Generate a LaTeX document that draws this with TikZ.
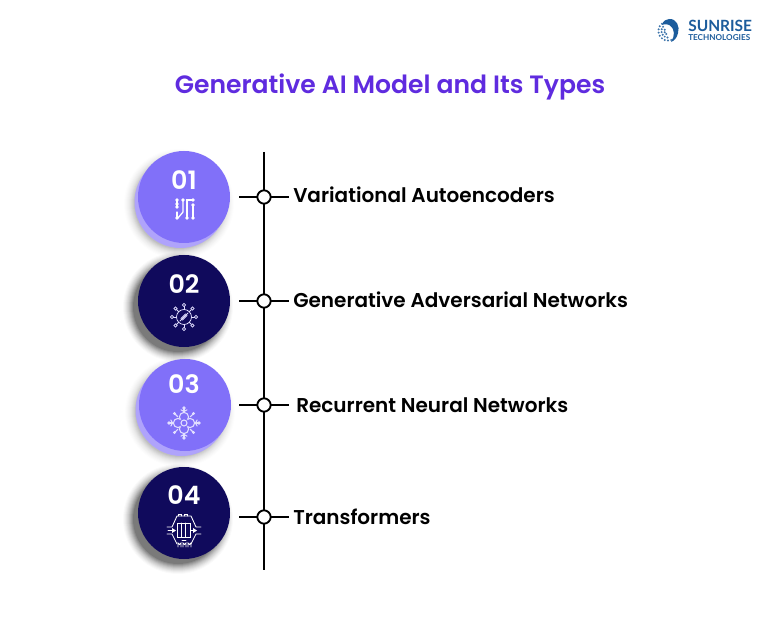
\documentclass[tikz,border=0pt]{standalone}
\usepackage{fontspec}
\setmainfont{Poppins}[BoldFont={Poppins SemiBold}]
\newfontfamily\logofont{Lato}
\definecolor{lilac}{HTML}{8170F9}
\definecolor{lilacback}{HTML}{AFA3FB}
\definecolor{navy}{HTML}{100A5C}
\definecolor{titlecol}{HTML}{5F2BDF}
\definecolor{logoblue}{HTML}{1C5C9C}
\definecolor{iconpale}{HTML}{E2DFFF}
\tikzset{
  x=0.75pt,y=-0.75pt,
  disc/.style={circle,minimum size=69pt,inner sep=0pt,fill=#1},
  num/.style={text=white,font=\bfseries\fontsize{19}{19}\selectfont,inner sep=0pt},
  rail/.style={line width=1.5pt,black},
  tick/.style={line width=1.5pt,black},
  knob/.style={circle,draw=black,fill=white,line width=1.4pt,minimum size=10pt,inner sep=0pt},
  lab/.style={anchor=west,font=\bfseries\fontsize{15}{16}\selectfont,inner sep=0pt,text=black},
  ico/.style={white,line width=0.95pt,line cap=round},
  icop/.style={iconpale,line width=0.55pt,line cap=round},
}
\newcommand{\softshadow}[3]{%
  \foreach \r/\o in {55/0.015,54/0.02,53/0.025,52/0.03,51/0.035,50/0.04,49/0.05,48/0.06,47/0.07,46/0.08,45/0.10}
    {\fill[black,opacity=#3*\o] (#1,#2) circle[radius=\r];}%
}
\begin{document}
\begin{tikzpicture}
\useasboundingbox (0,0) rectangle (780,630);
\fill[white] (0,0) rectangle (780,630);

% logo
\begin{scope}
  \fill[logoblue] (669,19) .. controls (677,18.5) and (680,27) .. (678,33)
     .. controls (677,38) and (674,41) .. (671,42)
     .. controls (675,36) and (675,29) .. (670,25.5)
     .. controls (668,24) and (664,24) .. (662,25) .. controls (663,21) and (666,19) .. (669,19) -- cycle;
  \foreach \a/\R in {130/9.5,150/9.5,170/9.5,190/9.5,210/9.5,230/9.5,250/9.5,270/9.5,290/9.5,140/6.5,165/6.5,190/6.5,215/6.5,240/6.5,265/6.5,160/3.5,200/3.5,240/3.5}
    \fill[logoblue!85] ({668+\R*cos(\a)},{31-\R*sin(\a)}) circle[radius=1.1];
\end{scope}
\node[anchor=west,inner sep=0pt,text=logoblue,font=\logofont\bfseries\fontsize{11.6}{12}\selectfont] (brand) at (688,26) {SUNRISE};
\node[anchor=west,inner sep=0pt,text=logoblue,font=\logofont\bfseries\fontsize{6.1}{6}\selectfont] (brandsub) at (688,37.5) {TECHNOLOGIES};

% title
\node[inner sep=0pt,text=titlecol,font=\bfseries\fontsize{18.8}{20}\selectfont] (title) at (390,87) {Generative AI Model and Its Types};

% shadows and discs
\softshadow{179}{204}{0.5}
\softshadow{178}{307}{1.3}
\softshadow{180}{412}{0.5}
\softshadow{178}{519}{1.3}
\fill[lilacback] (180.5,202) circle[radius=46];
\fill[lilacback] (181.5,410) circle[radius=46];
\node[disc=lilac] (d1) at (184,197) {};
\node[disc=navy] (d2) at (184,301) {};
\node[disc=lilac] (d3) at (185,405) {};
\node[disc=navy] (d4) at (184,513) {};
\node[num] (n1) at (184,180) {01};
\node[num] (n2) at (184,284) {02};
\node[num] (n3) at (184,384) {03};
\node[num] (n4) at (184,495) {04};

% icon 1: circuit traces
\begin{scope}[ico]
  \draw (177,200) -- (177,207) (177,212) -- (177,218);
  \draw (183,200) -- (183,212) -- (178,218);
  \draw (193,200) -- (187,200) -- (187,218);
  \draw (193,205) -- (193,218);
  \foreach \x/\y in {177/200,177/204,177/207,177/218,183/200,187/218,193/200,193/205,193/218}
    \fill[white] (\x,\y) circle[radius=1.8];
\end{scope}

% icon 2: hub with spokes
\begin{scope}[icop,shift={(184,317)}]
  \draw (0,0) circle[radius=7.5];
  \draw (-4,4) -- (4,-4);
  \draw (-3,1.5) -- (1.5,-3) (-1.5,3) -- (3,-1.5);
  \foreach \a in {0,45,...,315} {
    \draw ({7.5*cos(\a)},{7.5*sin(\a)}) -- ({10.5*cos(\a)},{10.5*sin(\a)});
    \draw ({12*cos(\a)},{12*sin(\a)}) circle[radius=1.7];
  }
\end{scope}

% icon 3: snowflake
\begin{scope}[icop,line width=0.8pt,shift={(184,423)}]
  \foreach \a in {0,90,180,270} {
    \draw ({6*cos(\a)},{6*sin(\a)}) circle[radius=4.6];
    \draw ({10.5*cos(\a)},{10.5*sin(\a)}) -- ({15*cos(\a)},{15*sin(\a)});
    \draw ({13.5*cos(\a+13)},{13.5*sin(\a+13)}) -- ({11.5*cos(\a)},{11.5*sin(\a)}) -- ({13.5*cos(\a-13)},{13.5*sin(\a-13)});
    \fill[iconpale] ({15*cos(\a)},{15*sin(\a)}) circle[radius=1.8];
    \draw ({9*cos(\a+45)},{9*sin(\a+45)}) -- ({12.5*cos(\a+45)},{12.5*sin(\a+45)});
    \fill[iconpale] ({13.5*cos(\a+45)},{13.5*sin(\a+45)}) circle[radius=1.6];
  }
  \fill[lilac] (0,0) circle[radius=4.8];
  \draw (0,0) circle[radius=3];
\end{scope}

% icon 4: chip
\begin{scope}[ico,line width=0.65pt]
  \draw (201,527) -- (196,527) -- (191,516) -- (177,516) -- (172,527) -- (167,527);
  \draw (167,534) -- (172,534) -- (177,544);
  \draw (191,544) -- (196,534) -- (201,534);
  \draw (177,523) rectangle (190,537);
  \draw (181.3,523) -- (181.3,537) (185.6,523) -- (185.6,537);
  \draw (178,516) -- (178,514) -- (181,514) -- (181,516) (184,516) -- (184,514) -- (187,514) -- (187,516);
  \foreach \x in {178,183,188} \draw (\x,547) -- (\x,543) arc[start angle=180,end angle=0,radius=1.5] -- (\x+3,547);
  \draw (182,540) -- (186,540);
  \fill[white] (176,530.5) -- (172,528) -- (172,533) -- cycle;
  \draw (168,530.5) -- (173,530.5);
  \fill[white] (197,530.5) -- (193,528) -- (193,533) -- cycle;
  \draw (191,530.5) -- (194,530.5);
\end{scope}

% timeline
\coordinate (railtop) at (264,152);
\coordinate (railbot) at (264,570);
\draw[rail] (railtop) -- (railbot);
\coordinate (t1) at (239,197);
\coordinate (t2) at (239,301);
\coordinate (t3) at (239,405);
\coordinate (t4) at (239,517);
\coordinate (e1) at (289,197);
\coordinate (e2) at (289,301);
\coordinate (e3) at (289,405);
\coordinate (e4) at (289,517);
\draw[tick] (t1) -- (e1);
\draw[tick] (t2) -- (e2);
\draw[tick] (t3) -- (e3);
\draw[tick] (t4) -- (e4);
\node[knob] (k1) at (264,197) {};
\node[knob] (k2) at (264,301) {};
\node[knob] (k3) at (264,405) {};
\node[knob] (k4) at (264,517) {};

\node[lab] (l1) at (293,195) {Variational Autoencoders};
\node[lab] (l2) at (293,300) {Generative Adversarial Networks};
\node[lab] (l3) at (296,405) {Recurrent Neural Networks};
\node[lab] (l4) at (293,517) {Transformers};
\end{tikzpicture}
\end{document}
